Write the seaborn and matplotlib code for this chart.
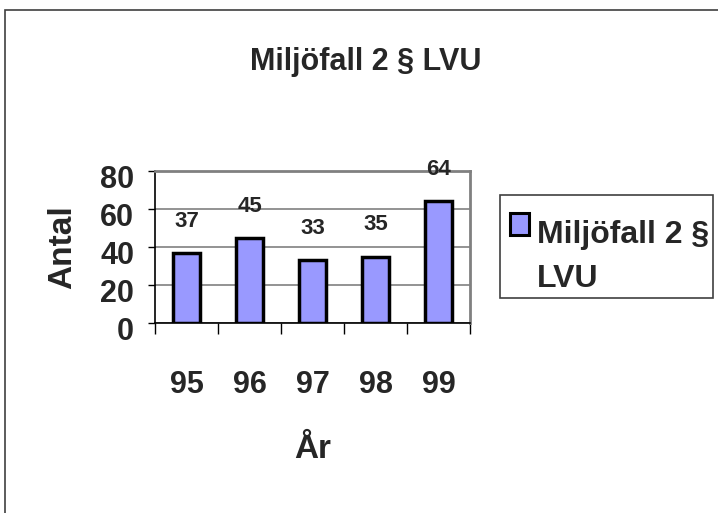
import matplotlib
matplotlib.use("Agg")
import matplotlib.pyplot as plt
import matplotlib.transforms as mtransforms
import seaborn as sns
import pandas as pd
from matplotlib.patches import Rectangle

years = ["95", "96", "97", "98", "99"]
values = [37, 45, 33, 35, 64]
series_lines = ["Miljöfall 2 §", "LVU"]
title = "Miljöfall 2 § LVU"
xlabel = "År"
ylabel = "Antal"
yticks = [0, 20, 40, 60, 80]

sns.set_theme(style="white")
plt.rcParams['font.family'] = ['Liberation Sans', 'DejaVu Sans']
plt.rcParams['font.weight'] = 'bold'

df = pd.DataFrame({"year": years, "value": values})

W, H = 718, 513
fig = plt.figure(figsize=(W / 100, H / 100), dpi=100)
fig.patch.set_facecolor("white")

def fx(px):
    return px / W

def fy(py):
    return 1 - py / H

# outer chart frame (cut off on the right and bottom)
fig.patches.append(Rectangle((fx(5), -0.05), 1.2, fy(10) + 0.05, transform=fig.transFigure,
                             fill=False, edgecolor="#404040", linewidth=1.2))

left, right, top, bottom = 155, 470, 171, 323
ax = fig.add_axes([fx(left), fy(bottom), (right - left) / W, (bottom - top) / H])

bar_color = "#9999FF"
sns.barplot(data=df, x="year", y="value", ax=ax, color=bar_color, width=0.43,
            edgecolor="black", linewidth=2.5, saturation=1)

ax.set_ylim(0, 80)
ax.set_xlim(-0.5, 4.5)
ax.set_yticks(yticks)
ax.set_yticklabels([str(t) for t in yticks], fontsize=22, fontweight="bold")
ax.yaxis.grid(True, color="#808080", linewidth=1.2)
ax.set_axisbelow(True)

# category-boundary ticks on x, labels at centres
ax.set_xticks([i - 0.5 for i in range(len(years) + 1)])
ax.set_xticklabels([])
ax.set_xticks(range(len(years)), minor=True)
ax.set_xticklabels(years, minor=True, fontsize=22, fontweight="bold")
ax.tick_params(axis="x", which="major", length=8, width=1, color="black", direction="out", bottom=True)
ax.tick_params(axis="x", which="minor", length=0, pad=34)
ax.tick_params(axis="y", length=5, width=1, color="black", direction="out", left=True, pad=10)

# y tick labels sit slightly below their gridlines in the reference
shift = mtransforms.ScaledTranslation(0, -5 / 100, fig.dpi_scale_trans)
for lbl in ax.get_yticklabels():
    lbl.set_transform(lbl.get_transform() + shift)

for s in ["top", "right"]:
    ax.spines[s].set_color("#808080")
    ax.spines[s].set_linewidth(2)
for s in ["left", "bottom"]:
    ax.spines[s].set_color("black")
    ax.spines[s].set_linewidth(1.2)

ax.set_xlabel(xlabel, fontsize=24, fontweight="bold", labelpad=24)
ax.set_ylabel(ylabel, fontsize=24, fontweight="bold", labelpad=16)

for i, v in enumerate(values):
    ax.annotate(str(v), (i, v), xytext=(0, 21), textcoords="offset pixels",
                ha="center", va="bottom", fontsize=16, fontweight="bold")

fig.text(fx(366), fy(62), title, ha="center", va="center",
         fontsize=22, fontweight="bold")

# legend box drawn by hand so the key aligns with the first text line
fig.patches.append(Rectangle((fx(500), fy(298)), (713 - 500) / W, (298 - 195) / H,
                             transform=fig.transFigure, fill=False,
                             edgecolor="#404040", linewidth=1.2))
fig.patches.append(Rectangle((fx(510), fy(235)), (529 - 510) / W, (235 - 213) / H,
                             transform=fig.transFigure, facecolor=bar_color,
                             edgecolor="black", linewidth=2.2))
fig.text(fx(537), fy(243), series_lines[0], ha="left", va="baseline",
         fontsize=23, fontweight="bold")
fig.text(fx(537), fy(287), series_lines[1], ha="left", va="baseline",
         fontsize=23, fontweight="bold")

fig.savefig("out.png", dpi=100)
